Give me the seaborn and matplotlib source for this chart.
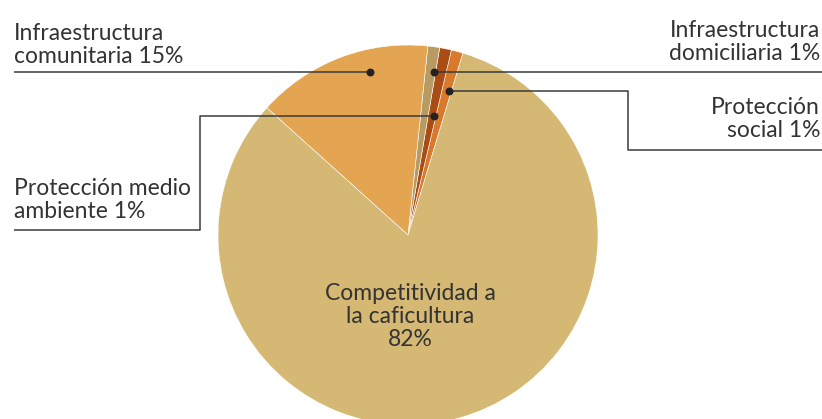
import matplotlib
matplotlib.use("Agg")
import matplotlib.pyplot as plt
import seaborn as sns

# data (counterclockwise from the right edge of the small slices)
labels = ["Protección social", "Protección medio ambiente", "Infraestructura domiciliaria",
          "Infraestructura comunitaria", "Competitividad a la caficultura"]
values = [1, 1, 1, 15, 82]
colors = ["#D9792B", "#A94D14", "#B89B62", "#E3A551", "#D4B873"]

W, H = 822, 419
TXT = "#333333"

sns.set_theme(style="white")
plt.rcParams["font.family"] = ["Lato", "DejaVu Sans"]

fig = plt.figure(figsize=(W / 100, H / 100), dpi=100)
ax = fig.add_axes([0, 0, 1, 1])


def py(y):
    # pixel row (from top) -> data y
    return H - y


ax.pie(values, colors=colors, startangle=73.2, counterclock=True,
       center=(408, py(235)), radius=190,
       wedgeprops=dict(edgecolor="white", linewidth=0.4))

# pie() resets the limits, so set them afterwards
ax.set_xlim(0, W)
ax.set_ylim(0, H)
ax.set_aspect("equal")
ax.axis("off")

fs = 16.5
lc = "#3a3a3a"
lw = 1.1
tkw = dict(fontsize=fs, color=TXT, linespacing=1.12, fontweight="normal")

# callout lines and dots
callouts = [
    [(370, 72), (14, 72)],
    [(434, 72), (822, 72)],
    [(449, 91), (628, 91), (628, 150), (822, 150)],
    [(434, 116), (200, 116), (200, 230), (14, 230)],
]
for pts in callouts:
    xs = [p[0] for p in pts]
    ys = [py(p[1]) for p in pts]
    ax.plot(xs, ys, color=lc, lw=lw, solid_capstyle="butt", zorder=3)
    ax.scatter([xs[0]], [ys[0]], s=22, color="#222222", zorder=4)

ax.text(14, py(63), "Infraestructura\ncomunitaria 15%", ha="left", va="baseline", **tkw)
ax.text(820, py(60), "Infraestructura\ndomiciliaria 1%", ha="right", va="baseline", **tkw)
ax.text(820, py(137), "Protección\nsocial 1%", ha="right", va="baseline", **tkw)
ax.text(14, py(218), "Protección medio\nambiente 1%", ha="left", va="baseline", **tkw)
ax.text(410, py(346), "Competitividad a\nla caficultura\n82%", ha="center", va="baseline",
        **tkw)

fig.savefig("out.png", dpi=100)
